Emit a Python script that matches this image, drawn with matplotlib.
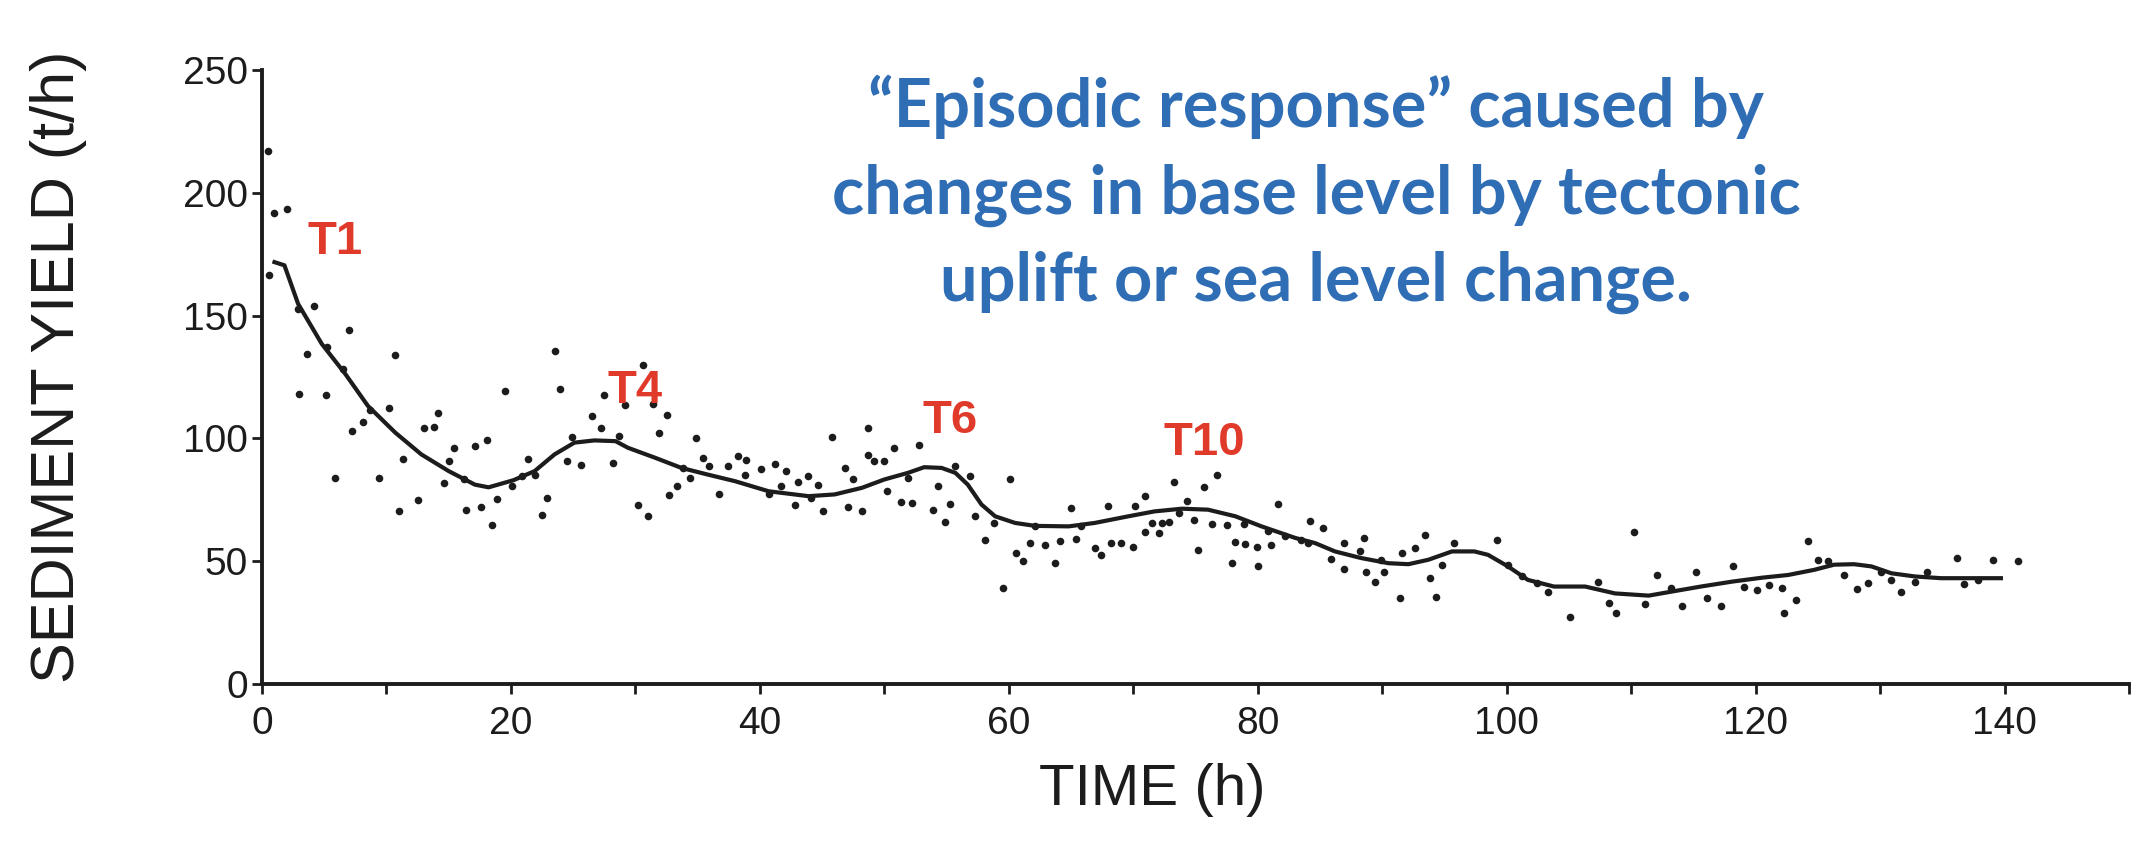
"""
Sediment yield vs time with episodic response annotation.
Outputs: out.png
"""

import matplotlib
matplotlib.use("Agg")
import matplotlib.pyplot as plt

matplotlib.rcParams["font.family"] = ["Liberation Sans", "DejaVu Sans"]

# scatter observations (time h, yield t/h)
OBS_T = [
    0.5, 1.0, 2.0, 0.6, 4.2, 2.9, 7.0, 3.6, 5.2, 6.5, 10.7, 3.0, 5.1, 19.5, 8.7, 10.2,
    8.1, 7.2, 14.1, 13.0, 13.8, 15.4, 17.1, 18.1, 11.3, 15.0, 5.9, 9.4, 14.6, 16.2,
    12.5, 11.0, 16.4, 17.6, 18.9, 18.5, 20.1,
    23.5, 23.9, 30.6, 27.5, 29.2, 31.4, 32.5, 26.5, 27.2, 31.9, 24.9, 28.7, 34.9,
    21.4, 24.5, 25.6, 28.2, 20.9, 21.9, 35.4, 33.8, 34.4, 35.9, 37.4, 38.2, 38.9,
    40.1, 40.7, 36.7, 33.3, 32.7, 22.9, 22.5, 30.2, 31.0, 38.8,
    48.7, 45.8, 50.8, 52.8, 48.7, 49.2, 50.0, 46.8, 47.5, 41.2, 42.1, 43.1, 43.9,
    44.7, 41.7, 44.1, 42.8, 45.1, 47.1, 48.2, 50.2, 51.3, 52.2, 51.9, 54.3, 55.7,
    56.9, 53.9, 54.9, 55.3, 57.3, 58.8, 58.1, 60.1, 60.6, 61.1, 59.5, 61.7,
    76.7, 73.3, 75.7, 70.9, 65.0, 68.0, 70.1, 74.3, 81.6, 71.5, 72.3, 72.9, 70.9,
    72.1, 73.7, 74.9, 76.3, 77.5, 78.9, 80.8, 62.1, 62.9, 64.1, 65.4, 65.8, 66.9,
    67.4, 68.2, 69.0, 70.0, 63.7, 75.2, 78.2, 79.0, 79.9, 81.1, 77.9, 80.0, 82.2,
    84.2, 85.2, 83.5, 84.0, 86.9, 88.5, 88.2, 85.9, 86.9, 88.7, 89.4, 90.1, 89.9,
    91.6, 92.6, 93.4, 91.4, 93.8, 94.3, 94.8, 95.8, 99.2, 100.1, 101.2, 102.4, 103.3,
    110.2, 124.2, 107.3, 108.2, 108.8, 105.1, 111.1, 112.1, 113.2, 114.1, 115.2,
    116.1, 117.2, 118.2, 119.1, 120.1, 121.1, 122.1, 122.3, 123.2,
    125.0, 125.8, 127.1, 128.1, 129.0, 130.1, 130.9, 131.7, 132.8, 133.8, 136.2,
    136.7, 137.9, 139.1, 141.1,
]
OBS_Y = [
    217, 191.6, 193.6, 166.4, 154.1, 152.8, 144.3, 134.4, 137.4, 128.2, 134.1, 118.3,
    117.6, 119.4, 111.6, 112.6, 106.8, 103.0, 110.5, 104.1, 104.7, 96.2, 96.9, 99.2,
    91.5, 90.8, 83.9, 83.9, 81.9, 83.3, 75.1, 70.6, 71.0, 72.0, 75.4, 64.6, 80.6,
    135.7, 120.1, 130.0, 117.8, 113.7, 114.2, 109.6, 109.2, 104.1, 102.4, 100.6,
    101.0, 100.3, 91.5, 90.8, 89.0, 90.1, 84.6, 85.3, 92.1, 88.0, 84.0, 88.7, 88.7,
    92.8, 91.1, 87.4, 77.4, 77.4, 80.5, 77.1, 75.8, 69.0, 72.8, 68.3, 85.3,
    104.4, 100.6, 96.2, 97.2, 93.2, 90.8, 90.8, 87.8, 83.3, 89.4, 86.7, 82.2, 84.6,
    81.2, 80.5, 75.8, 72.7, 70.3, 72.0, 70.6, 78.5, 74.0, 73.8, 84.0, 80.5, 88.7,
    84.6, 71.0, 66.0, 73.3, 68.3, 65.6, 58.8, 83.3, 53.3, 50.2, 39.3, 57.4,
    85.3, 82.3, 80.1, 76.7, 71.7, 72.4, 72.4, 74.7, 73.3, 65.6, 65.6, 66.0, 61.9,
    61.5, 69.7, 66.9, 65.2, 64.6, 65.2, 62.2, 64.2, 56.7, 58.4, 59.2, 64.2, 55.3,
    52.4, 57.4, 57.4, 56.0, 49.2, 54.7, 57.8, 57.0, 56.0, 56.7, 49.2, 47.9, 60.1,
    66.2, 63.5, 58.8, 57.4, 57.4, 59.4, 54.3, 51.0, 46.9, 45.8, 41.7, 45.8, 50.6,
    53.3, 55.3, 60.5, 35.2, 43.1, 35.3, 48.5, 57.4, 58.8, 48.5, 43.8, 41.0, 37.6,
    61.8, 58.4, 41.5, 32.9, 28.8, 27.2, 32.5, 44.2, 39.3, 31.9, 45.5, 34.9, 31.9,
    47.9, 39.7, 38.3, 40.4, 39.0, 28.8, 34.3,
    50.6, 50.2, 44.2, 38.7, 41.1, 45.5, 42.4, 37.6, 41.5, 45.8, 51.5, 40.6, 42.4,
    50.6, 50.2,
]

# smoothed trend line
TREND_T = [
    1.0, 1.8, 2.9, 4.8, 6.7, 8.5, 10.7, 12.8, 15.0, 17.1, 18.2, 20.2, 21.9, 23.5,
    25.1, 26.7, 28.4, 29.4, 31.6, 33.7, 35.8, 38.0, 40.7, 43.9, 46.0, 48.2, 50.0,
    51.9, 53.2, 54.6, 55.7, 56.7, 57.8, 58.9, 60.5, 62.1, 64.8, 66.9, 69.6, 71.7,
    73.9, 76.0, 78.2, 80.3, 83.0, 84.6, 86.2, 88.3, 90.5, 92.1, 93.7, 95.6, 97.4,
    98.5, 100.1, 101.7, 103.8, 106.3, 108.7, 111.4, 113.2, 115.6, 118.1, 120.5,
    122.6, 124.7, 126.3, 127.9, 129.3, 130.9, 132.8, 134.9, 137.6, 139.7,
]
TREND_Y = [
    171.8, 170.5, 154.8, 138.5, 126.2, 113.3, 102.4, 93.5, 86.7, 81.2, 80.1, 83.0,
    86.7, 93.5, 98.3, 99.2, 98.9, 96.2, 92.1, 88.0, 85.3, 82.6, 78.5, 76.5, 77.2,
    79.9, 83.3, 86.0, 88.3, 88.0, 86.0, 81.2, 73.1, 68.3, 65.6, 64.4, 64.2, 65.6,
    68.3, 70.3, 71.4, 71.0, 68.3, 64.2, 59.5, 57.4, 54.0, 51.3, 49.2, 48.8, 50.6,
    54.0, 54.0, 52.6, 47.9, 42.4, 39.7, 39.7, 36.9, 36.0, 37.6, 39.7, 41.7, 43.3,
    44.4, 46.5, 48.6, 48.8, 47.9, 45.1, 43.8, 43.1, 43.1, 43.1,
]

# terrace labels (time, yield)
TERRACES = ["T1", "T4", "T6", "T10"]
TERRACE_T = [5.9, 30.0, 55.3, 75.7]
TERRACE_Y = [180, 119.5, 107.3, 98.0]

NOTE_LINES = [
    "\u201cEpisodic response\u201d caused by",
    "changes in base level by tectonic",
    "uplift or sea level change.",
]

INK = "#1c1c1c"
RED = "#E03A2A"
BLUE = "#2F6DB5"


fig = plt.figure(figsize=(21.53, 8.65), dpi=100)
fig.patch.set_facecolor("white")
ax = fig.add_axes([0.1217, 0.2092, 0.8672, 0.7098])

ax.scatter(OBS_T, OBS_Y, s=30, color=INK, linewidths=0, zorder=3, clip_on=False)
ax.plot(TREND_T, TREND_Y, color=INK, linewidth=3.0, zorder=2,
        solid_joinstyle="round")

ax.set_xlim(0, 150)
ax.set_ylim(0, 250)
for side in ("top", "right"):
    ax.spines[side].set_visible(False)
for side in ("left", "bottom"):
    ax.spines[side].set_linewidth(2.8)
    ax.spines[side].set_color(INK)

ax.set_xticks(range(0, 141, 20))
ax.set_xticks(range(10, 151, 20), minor=True)
ax.set_yticks(range(0, 251, 50))
ax.tick_params(which="both", direction="out", length=7, width=2, color=INK)
ax.tick_params(axis="x", labelsize=28, labelcolor=INK, pad=9)
ax.tick_params(axis="y", labelsize=28, labelcolor=INK, pad=3)

ax.set_xlabel("TIME (h)", fontsize=42, color=INK, va="center")
ax.xaxis.set_label_coords(0.477, -0.173)
ax.set_ylabel("SEDIMENT YIELD (t/h)", fontsize=44, color=INK, va="center")
ax.yaxis.set_label_coords(-0.109, 0.516)

for name, t, y in zip(TERRACES, TERRACE_T, TERRACE_Y):
    ax.text(t, y, name, color=RED, fontsize=34, fontweight="bold",
            ha="center", va="center", zorder=4)

# blue annotation, one line at a time
baselines = [127, 214, 301]
for line, base in zip(NOTE_LINES, baselines):
    fig.text(1316 / 2153, 1 - base / 865, line, color=BLUE, fontsize=48,
             family=["Lato", "DejaVu Sans"], fontweight="bold",
             ha="center", va="baseline")

fig.savefig("out.png", dpi=100, facecolor="white")
plt.close(fig)
